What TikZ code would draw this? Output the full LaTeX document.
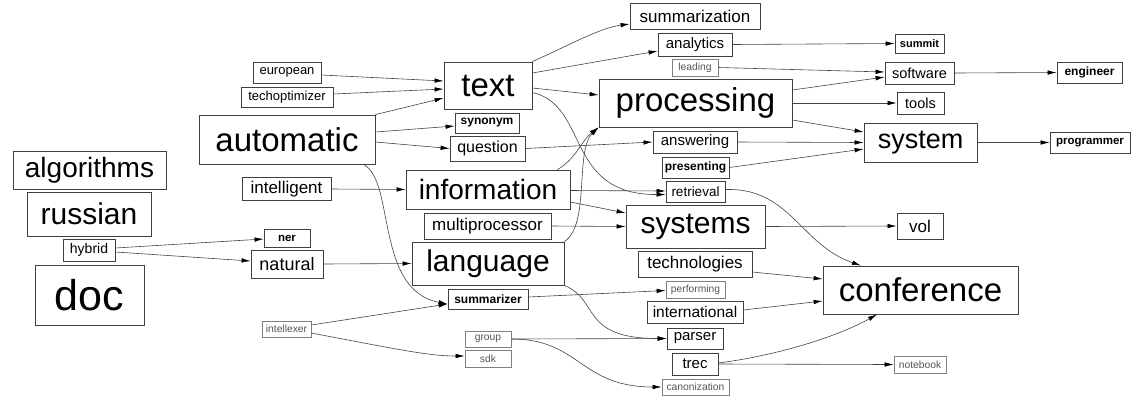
\documentclass[tikz,border=0pt]{standalone}
\usepackage{fontspec}
\setmainfont{Liberation Sans}
\usetikzlibrary{arrows.meta}
\newcommand\fz[1]{\fontsize{#1}{#1}\selectfont}
\definecolor{boxgray}{HTML}{404040}
\definecolor{litegray}{HTML}{808080}
\definecolor{litetext}{HTML}{555555}
\definecolor{edgegray}{HTML}{444444}
\tikzset{
  box/.style={draw=boxgray, line width=0.8pt, inner sep=0pt, text=black},
  lite/.style={draw=litegray, line width=0.7pt, inner sep=0pt, text=litetext},
  nb/.style n args={3}{minimum width=#1pt, minimum height=#2pt, font=\fz{#3}},
  bnb/.style n args={3}{minimum width=#1pt, minimum height=#2pt, font=\fz{#3}\bfseries},
  edge/.style={draw=edgegray, line width=0.6pt, -{Latex[length=9pt,width=4.5pt,color=black]}},
}
\begin{document}
\begin{tikzpicture}[x=1pt,y=-1pt]
\useasboundingbox (0,0) rectangle (1140,400);
\fill[white] (0,0) rectangle (1140,400);
% column 1
\node[box, nb={153}{38}{28}] (algorithms) at (89.5,170) {algorithms};
\node[box, nb={124}{44}{30}] (russian) at (89,214) {russian};
\node[box, nb={52}{22}{14}] (hybrid) at (89,250) {hybrid};
\node[box, nb={109}{60}{43}] (doc) at (89.5,295) {doc};
% column 2
\node[box, nb={68}{21}{13}] (european) at (287,72.5) {european};
\node[box, nb={92}{20}{13}] (techoptimizer) at (287,97) {techoptimizer};
\node[box, nb={176}{49}{33}] (automatic) at (287,139.5) {automatic};
\node[box, nb={89}{23}{17}] (intelligent) at (286.5,189) {intelligent};
\node[box, bnb={46}{18}{11.5}] (ner) at (287,238) {ner};
\node[box, nb={72}{28}{18}] (natural) at (287,264) {natural};
\node[lite, nb={49}{16}{10.3}] (intellexer) at (286.5,329) {intellexer};
% column 3
\node[box, nb={88}{47}{33}] (text) at (488,85.5) {text};
\node[box, bnb={64}{20}{12}] (synonym) at (487,123) {synonym};
\node[box, nb={75}{25}{16}] (question) at (487.5,148.5) {question};
\node[box, nb={164}{39}{28}] (information) at (488,189.5) {information};
\node[box, nb={127}{26}{17}] (multiprocessor) at (487.5,226) {multiprocessor};
\node[box, nb={152}{43}{30}] (language) at (488,263.5) {language};
\node[box, bnb={80}{20}{12}] (summarizer) at (488,299) {summarizer};
\node[lite, nb={46}{16}{10.3}] (group) at (488,339) {group};
\node[lite, nb={46}{17}{10.3}] (sdk) at (488,358.5) {sdk};
% column 4
\node[box, nb={130}{26}{17}] (summarization) at (695,16) {summarization};
\node[box, nb={74}{23}{15}] (analytics) at (695,44.5) {analytics};
\node[lite, nb={46}{17}{10.3}] (leading) at (695,67.5) {leading};
\node[box, nb={193}{48}{33}] (processing) at (695.5,103) {processing};
\node[box, nb={84}{22}{15}] (answering) at (695,142) {answering};
\node[box, bnb={67}{21}{12}] (presenting) at (695.5,167.5) {presenting};
\node[box, nb={59}{21}{13.5}] (retrieval) at (695.5,191.5) {retrieval};
\node[box, nb={139}{43}{30}] (systems) at (695.5,226.5) {systems};
\node[box, nb={114}{26}{17}] (technologies) at (695,264) {technologies};
\node[lite, nb={59}{17}{10.3}] (performing) at (695.5,289.5) {performing};
\node[box, nb={96}{22}{15.5}] (international) at (695,312) {international};
\node[box, nb={56}{21}{15}] (parser) at (695,338.5) {parser};
\node[box, nb={46}{22}{15}] (trec) at (695,364) {trec};
\node[lite, nb={67}{16}{10.3}] (canonization) at (695.5,387) {canonization};
% column 5
\node[box, bnb={49}{19}{11}] (summit) at (919.5,43.5) {summit};
\node[box, nb={69}{22}{14.5}] (software) at (919.5,73) {software};
\node[box, nb={47}{22}{14.5}] (tools) at (920.5,103) {tools};
\node[box, nb={113}{39}{27}] (system) at (920.5,142.5) {system};
\node[box, nb={46}{26}{17}] (vol) at (920,226) {vol};
\node[box, nb={195}{48}{33}] (conference) at (920.5,290) {conference};
\node[lite, nb={52}{17}{10.3}] (notebook) at (920,364.5) {notebook};
% column 6
\node[box, bnb={65}{21}{12}] (engineer) at (1089.5,72.5) {engineer};
\node[box, bnb={80}{21}{11.5}] (programmer) at (1090,142.5) {programmer};
% edges
\draw[edge] ([yshift=-2.5pt]european.east) -- ([yshift=4.5pt]text.west);
\draw[edge] ([yshift=3pt]techoptimizer.east) -- ([yshift=-3.5pt]text.west);
\draw[edge] (automatic.north east) -- ([yshift=-12.5pt]text.west);
\draw[edge] ([yshift=7.5pt]automatic.east) -- ([yshift=-3pt]synonym.west);
\draw[edge] ([yshift=-2.5pt]automatic.east) -- (question.west);
\draw[edge] ([xshift=-12pt]automatic.south east) .. controls +(32,16) and +(-73,-14) .. ([yshift=-5pt]summarizer.west);
\draw[edge] (intelligent.east) -- (information.west);
\draw[edge] (text.north east) .. controls +(38,-17) and +(-30,4) .. ([yshift=-8pt]summarization.west);
\draw[edge] ([yshift=12.5pt]text.east) -- ([yshift=-6.5pt]analytics.west);
\draw[edge] ([yshift=-2.5pt]text.east) -- ([yshift=8pt]processing.west);
\draw[edge] ([yshift=-7pt]text.east) .. controls +(57,13) and +(-101,0.5) .. ([yshift=-3pt]retrieval.west);
\draw[edge] ([yshift=-1pt]information.east) -- ([yshift=0.5pt]retrieval.west);
\draw[edge] ([xshift=-13pt]information.north east) .. controls +(18,-10) and +(-16,12) .. (processing.south west);
\draw[edge] (language.north east) .. controls +(26,-17) and +(-24,23) .. (processing.south west);
\draw[edge] ([yshift=-12.5pt]information.east) -- ([yshift=13.5pt]systems.west);
\draw[edge] (multiprocessor.east) -- (systems.west);
\draw[edge] (natural.east) -- (language.west);
\draw[edge] ([yshift=2pt]hybrid.east) -- ([yshift=-1pt]ner.west);
\draw[edge] ([yshift=-2pt]hybrid.east) -- ([yshift=3pt]natural.west);
\draw[edge] (question.east) -- (answering.west);
\draw[edge] (analytics.east) -- (summit.west);
\draw[edge] (leading.east) -- ([yshift=1pt]software.west);
\draw[edge] ([yshift=13pt]processing.east) -- ([yshift=-4pt]software.west);
\draw[edge] (processing.east) -- (tools.west);
\draw[edge] ([yshift=-17pt]processing.east) -- ([yshift=10.5pt]system.west);
\draw[edge] (answering.east) -- (system.west);
\draw[edge] (presenting.east) -- ([yshift=-6.5pt]system.west);
\draw[edge] (software.east) -- (engineer.west);
\draw[edge] (system.east) -- (programmer.west);
\draw[edge] (systems.east) -- (vol.west);
\draw[edge] ([yshift=2pt]retrieval.east) .. controls +(65,-2) and +(-61,-21) .. ([xshift=-59.5pt]conference.north);
\draw[edge] ([yshift=-8pt]technologies.east) -- ([yshift=11pt]conference.west);
\draw[edge] ([yshift=2pt]international.east) -- ([yshift=-11pt]conference.west);
\draw[edge] ([yshift=1pt]trec.east) .. controls +(62,-8) and +(-37,21) .. ([xshift=-43.5pt]conference.south);
\draw[edge] (trec.east) -- (notebook.west);
\draw[edge] ([yshift=2pt]summarizer.east) -- ([yshift=-1pt]performing.west);
\draw[edge] (language.south east) .. controls +(36,15) and +(-87,0) .. (parser.west);
\draw[edge] (group.east) -- (parser.west);
\draw[edge] (group.east) .. controls +(69,0) and +(-82,0) .. (canonization.west);
\draw[edge] ([yshift=4pt]intellexer.east) -- ([yshift=-5pt]summarizer.west);
\draw[edge] ([yshift=-4pt]intellexer.east) .. controls +(89,17) and +(-35,0) .. ([yshift=2.5pt]sdk.west);
\end{tikzpicture}
\end{document}
